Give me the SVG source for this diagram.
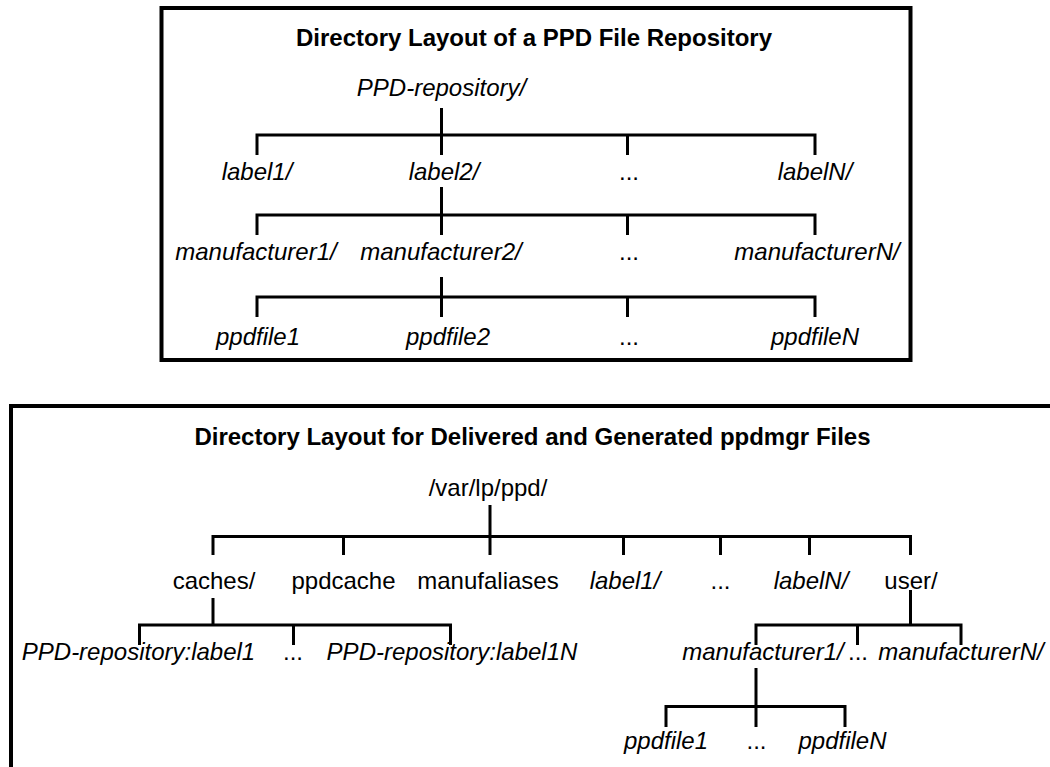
<svg xmlns="http://www.w3.org/2000/svg" width="1050" height="767" viewBox="0 0 1050 767">
<style>
.frame{fill:none;stroke:#000;stroke-width:4}
.c{fill:none;stroke:#000;stroke-width:3}
text{font-family:"Liberation Sans",Arial,Helvetica,sans-serif;font-size:24px;fill:#000;text-anchor:middle}
.t{font-weight:bold}
.i{font-style:italic}
</style>
<rect width="1050" height="767" fill="#fff"/>
<g id="box1">
<rect class="frame" x="161.5" y="8" width="749" height="352"/>
<text class="t" x="534" y="46">Directory Layout of a PPD File Repository</text>
</g>
<g id="connectors1">
<path class="c" d="M441.5,108V155M257,155V135H815V155M627.5,135V155"/>
<path class="c" d="M441.5,187V235M257,235V215H815V235M627.5,215V235"/>
<path class="c" d="M441.5,277V317M257,317V297H815V317M627.5,297V317"/>
</g>
<g id="n-root1"><text class="i" x="441.5" y="96">PPD-repository/</text></g>
<g id="n-label1"><text class="i" x="257" y="180">label1/</text></g>
<g id="n-label2"><text class="i" x="444" y="180">label2/</text></g>
<g id="n-labeldots"><text x="629" y="180">...</text></g>
<g id="n-labelN"><text class="i" x="815" y="180">labelN/</text></g>
<g id="n-man1"><text class="i" x="256" y="260">manufacturer1/</text></g>
<g id="n-man2"><text class="i" x="441" y="260">manufacturer2/</text></g>
<g id="n-mandots"><text x="629" y="260">...</text></g>
<g id="n-manN"><text class="i" x="817" y="260">manufacturerN/</text></g>
<g id="n-ppd1"><text class="i" x="258" y="345">ppdfile1</text></g>
<g id="n-ppd2"><text class="i" x="448" y="345">ppdfile2</text></g>
<g id="n-ppddots"><text x="629" y="345">...</text></g>
<g id="n-ppdN"><text class="i" x="815" y="345">ppdfileN</text></g>

<g id="box2">
<rect class="frame" x="11" y="406" width="1100" height="500"/>
<text class="t" x="532.5" y="445">Directory Layout for Delivered and Generated ppdmgr Files</text>
</g>
<g id="connectors2">
<path class="c" d="M490,505V555M213,555V536.5H910.5V555M343.5,536.5V555M623.5,536.5V555M720.5,536.5V555M809.5,536.5V555"/>
<path class="c" d="M213,598V625M139.5,645V625H450.5V645M293.5,625V645"/>
<path class="c" d="M910.5,590V625M756,645V625H961V645M857.5,625V645"/>
<path class="c" d="M756,668V727M666,727V706.5H845V727"/>
</g>
<g id="n-varlp"><text x="488" y="496">/var/lp/ppd/</text></g>
<g id="n-caches"><text x="214" y="589">caches/</text></g>
<g id="n-ppdcache"><text x="343.5" y="589">ppdcache</text></g>
<g id="n-manufaliases"><text x="488" y="589">manufaliases</text></g>
<g id="n-blabel1"><text class="i" x="625" y="589">label1/</text></g>
<g id="n-bdots"><text x="720.5" y="589">...</text></g>
<g id="n-blabelN"><text class="i" x="811" y="589">labelN/</text></g>
<g id="n-user"><text x="911" y="589">user/</text></g>
<g id="n-repl1"><text class="i" x="138.5" y="660">PPD-repository:label1</text></g>
<g id="n-repdots"><text x="293" y="660">...</text></g>
<g id="n-replN"><text class="i" x="452" y="660">PPD-repository:label1N</text></g>
<g id="n-bman1"><text class="i" x="763" y="660">manufacturer1/</text></g>
<g id="n-bmandots"><text x="858" y="660">...</text></g>
<g id="n-bmanN"><text class="i" x="961" y="660">manufacturerN/</text></g>
<g id="n-bppd1"><text class="i" x="666" y="749">ppdfile1</text></g>
<g id="n-bppddots"><text x="756.5" y="749">...</text></g>
<g id="n-bppdN"><text class="i" x="842.5" y="749">ppdfileN</text></g>
</svg>
